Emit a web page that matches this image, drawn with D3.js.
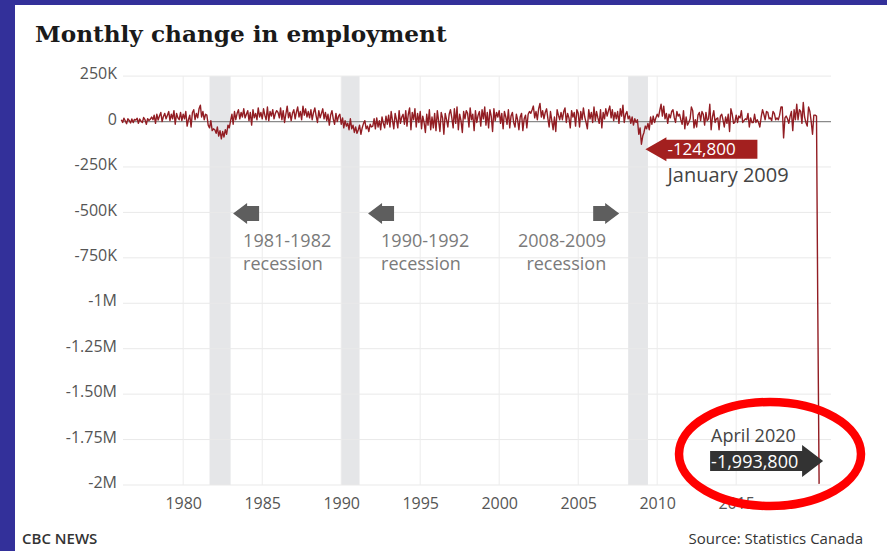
<!DOCTYPE html>
<html>
<head>
<meta charset="utf-8">
<script src="https://cdn.jsdelivr.net/npm/d3@7"></script>
<style>
  html, body { margin: 0; padding: 0; background: #fff; }
  svg { display: block; }
</style>
</head>
<body>
<svg id="chart" width="887" height="551"></svg>
<script>
// Monthly change in employment, thousands of persons, Feb 1976 – Apr 2020
const firstMonth = { year: 1976, month: 1 }; // 0-based month: February
const monthlyChange = [
  /*1976*/ 10, -5, 18, 4, -12, 15, 6, -8, 14, -6, 12,
  /*1977*/ 8, 18, -10, 14, 2, -5, 22, 10, -15, 16, 5, 12,
  /*1978*/ 25, 10, 35, -10, 40, 8, 30, 50, 0, 28, 45, 15,
  /*1979*/ 35, 55, 5, 40, 15, 60, -15, 45, 20, 10, 50, 5,
  /*1980*/ 40, 15, 55, -25, 10, 35, -30, 50, 65, 10, 45, 20,
  /*1981*/ 70, 90, 25, 55, 10, 40, 35, -20, -35, 5, -50, -40,
  /*1982*/ -45, -65, -30, -80, -50, -95, -55, -85, -45, -70, -20, -35,
  /*1983*/ 5, 40, -15, 55, 10, 45, 65, 15, 50, 25, 70, 20,
  /*1984*/ 40, 60, 5, 50, -20, 65, 20, 45, 10, 75, 25, 50,
  /*1985*/ 15, 70, 35, 10, 80, 5, 55, 30, 65, 15, 45, 60,
  /*1986*/ 50, 20, 75, 10, 60, -5, 40, 85, 20, 50, 5, 45,
  /*1987*/ 65, 15, 50, 80, 25, 55, 10, 85, 35, 70, 25, 55,
  /*1988*/ 20, 65, 10, 50, 75, 30, -5, 60, 20, 45, 70, 15,
  /*1989*/ 50, 5, 40, -20, 35, 60, 15, -15, 45, 0, 30, 40,
  /*1990*/ -15, 20, -35, 5, -25, -10, -45, 15, -40, -20, -60, -30,
  /*1991*/ -65, -45, -20, -70, -35, -10, 5, -40, -25, -55, -15, -30,
  /*1992*/ -25, 15, -40, 20, -30, 5, -45, 25, -10, -35, 30, -15,
  /*1993*/ 35, -30, 55, 5, -40, 45, 10, -35, 60, -10, 25, 40,
  /*1994*/ -15, 60, -25, 40, 75, -45, 50, 10, 70, -30, 45, -5,
  /*1995*/ 55, -40, 30, -5, -60, 40, -20, 65, -45, 25, -35, 45,
  /*1996*/ -50, 60, 5, -55, 50, 20, -70, 45, 10, -30, 40, 65,
  /*1997*/ 20, -35, 70, -10, 80, -45, 40, 5, -60, 55, 15, 60,
  /*1998*/ 45, -30, 75, 10, 40, -50, 60, -5, 35, 55, -25, 65,
  /*1999*/ 15, 80, -20, 50, -35, 65, 30, -55, 70, 5, 50, 25,
  /*2000*/ 60, -10, 45, -40, 55, 25, -15, 65, -35, 30, 50, -5,
  /*2001*/ -30, 40, 10, -45, 25, 45, -50, 15, 35, -35, 40, 55,
  /*2002*/ 45, 65, 85, 20, 55, 10, 70, 100, 25, 60, 15, 50,
  /*2003*/ 70, 15, -30, 55, 5, -45, 25, -55, 65, 35, 10, 50,
  /*2004*/ 10, 55, 75, -5, 45, 20, -35, 60, 25, 50, -25, 65,
  /*2005*/ 45, -30, 55, 10, 75, 25, -5, -40, 65, 15, 50, -5,
  /*2006*/ 80, 5, 55, 20, -10, 65, -35, 50, 15, 70, 30, 60,
  /*2007*/ 85, 20, 65, 5, 50, 15, 55, -10, 70, 30, 90, -5,
  /*2008*/ 40, 55, 15, 30, -10, 25, -20, 15, -5, 10, -70, -35,
  /*2009*/ -124.8, -80, -60, -25, -40, -10, -45, 25, -15, 30, -5, 20,
  /*2010*/ 40, 25, 60, 95, 30, 85, 15, 45, -10, 40, 20, 55,
  /*2011*/ 65, 20, -5, 55, 30, 40, 10, -15, 60, -40, 25, -20,
  /*2012*/ -5, 15, 80, 60, -35, 10, -30, 35, 50, 5, 55, 40,
  /*2013*/ -20, 50, 5, 15, 95, -45, 25, 60, -5, 15, 20, -45,
  /*2014*/ 30, 40, 10, -30, 25, -10, 40, -55, 70, 40, -10, -5,
  /*2015*/ 35, -5, 30, 20, 60, -5, 5, 15, 10, 45, -30, 20,
  /*2016*/ -5, -5, 40, -5, 10, -5, -30, 25, 65, 40, 10, 55,
  /*2017*/ 50, 15, 20, 5, 55, 45, 10, 20, 10, 35, 80, 80,
  /*2018*/ -90, 20, 30, 15, -10, 30, 55, -50, 65, 10, 95, 10,
  /*2019*/ 65, 55, -10, 105, 25, -5, -25, 80, 55, 0, -70, 35,
  /*2020*/ 35, 30, -1011.2, -1993.8
];

const yTicks = [250000, 0, -250000, -500000, -750000, -1000000, -1250000, -1500000, -1750000, -2000000];
const yTickLabels = ["250K", "0", "-250K", "-500K", "-750K", "-1M", "-1.25M", "-1.50M", "-1.75M", "-2M"];
const xTickYears = [1980, 1985, 1990, 1995, 2000, 2005, 2010, 2015];

const recessionStarts = ["1981-09", "1990-01", "2008-03"];
const recessionEnds   = ["1983-01", "1991-03", "2009-06"];
const recessionLabels = [["1981-1982", "recession"], ["1990-1992", "recession"], ["2008-2009", "recession"]];

const callouts = [
  { month: "2009-01", value: -124800,  label: "-124,800",   caption: "January 2009" },
  { month: "2020-04", value: -1993800, label: "-1,993,800", caption: "April 2020" }
];

const titleText = "Monthly change in employment";
const creditText = "CBC NEWS";
const sourceText = "Source: Statistics Canada";

// ---------------------------------------------------------------------------
const parseMonth = d3.utcParse("%Y-%m");
const series = monthlyChange.map((v, i) => ({
  date: new Date(Date.UTC(firstMonth.year, firstMonth.month + i, 1)),
  value: v * 1000
}));

const svg = d3.select("#chart");
const W = 887, H = 551;
const plot = { left: 120, right: 831, top: 76.1, bottom: 485 };

const x = d3.scaleUtc()
  .domain([new Date(Date.UTC(1976, 0, 1)), new Date(Date.UTC(2021, 0, 1))])
  .range([plot.left, plot.right]);
const y = d3.scaleLinear()
  .domain([-2000000, 250000])
  .range([plot.bottom, plot.top]);

const sans = "'Open Sans', 'Noto Sans', sans-serif";

// page frame
svg.append("rect").attr("width", W).attr("height", H).attr("fill", "#fff");
svg.append("rect").attr("x", 0).attr("y", 0).attr("width", 15).attr("height", H).attr("fill", "#33309a");
svg.append("rect").attr("x", 0).attr("y", 0).attr("width", W).attr("height", 5).attr("fill", "#33309a");

// title
svg.append("text")
  .attr("x", 35).attr("y", 42)
  .attr("font-family", "'DejaVu Serif', serif")
  .attr("font-weight", "bold")
  .attr("font-size", 23.2)
  .attr("fill", "#1a1a1a")
  .text(titleText);

// recession bands
const bands = svg.append("g");
recessionStarts.forEach((s, i) => {
  const x0 = x(parseMonth(s)), x1 = x(parseMonth(recessionEnds[i]));
  bands.append("rect")
    .attr("x", x0).attr("y", plot.top)
    .attr("width", x1 - x0).attr("height", plot.bottom - plot.top)
    .attr("fill", "#e5e6e8");
});

// grid
const grid = svg.append("g");
grid.selectAll("line.h")
  .data(yTicks.filter(v => v !== 0))
  .join("line")
  .attr("x1", 123).attr("x2", plot.right)
  .attr("y1", d => y(d)).attr("y2", d => y(d))
  .attr("stroke", "#e9e9e9").attr("stroke-width", 1);
grid.selectAll("line.v")
  .data(xTickYears)
  .join("line")
  .attr("x1", d => x(new Date(Date.UTC(d, 0, 1)))).attr("x2", d => x(new Date(Date.UTC(d, 0, 1))))
  .attr("y1", plot.top).attr("y2", plot.bottom)
  .attr("stroke", "#ececec").attr("stroke-width", 1);

// y axis (labels only)
const yAxis = d3.axisLeft(y)
  .tickValues(yTicks)
  .tickSize(0)
  .tickPadding(0)
  .tickFormat((d, i) => yTickLabels[i]);
const yG = svg.append("g").attr("transform", "translate(117,-2.5)").call(yAxis);
yG.select(".domain").remove();
yG.selectAll("text")
  .attr("font-family", sans).attr("font-size", 16).attr("fill", "#555");

// x axis (labels only)
const xAxis = d3.axisBottom(x)
  .tickValues(xTickYears.map(yr => new Date(Date.UTC(yr, 0, 1))))
  .tickSize(0)
  .tickPadding(0)
  .tickFormat(d3.utcFormat("%Y"));
const xG = svg.append("g").attr("transform", "translate(0,497.5)").call(xAxis);
xG.select(".domain").remove();
xG.selectAll("text")
  .attr("font-family", sans).attr("font-size", 16).attr("fill", "#555");

// zero line
svg.append("line")
  .attr("x1", 123).attr("x2", plot.right)
  .attr("y1", y(0)).attr("y2", y(0))
  .attr("stroke", "#8a8a8a").attr("stroke-width", 1.2);

// series
svg.append("path")
  .datum(series)
  .attr("d", d3.line().x(d => x(d.date)).y(d => y(d.value)))
  .attr("fill", "none")
  .attr("stroke", "#921d23")
  .attr("stroke-width", 1.4)
  .attr("stroke-linejoin", "round");

// arrow shape: tip at (tx, ty), pointing dir (-1 left, +1 right)
function arrowPath(tx, ty, dir, headLen, headHalf, bodyLen, bodyHalf) {
  const hb = tx - dir * headLen, be = hb - dir * bodyLen;
  return `M${tx},${ty} L${hb},${ty - headHalf} L${hb},${ty - bodyHalf} L${be},${ty - bodyHalf}` +
         ` L${be},${ty + bodyHalf} L${hb},${ty + bodyHalf} L${hb},${ty + headHalf} Z`;
}

// recession pointers and labels
const recG = svg.append("g");
const pointerSpec = [
  { edge: "end",   dx: 2.5, dir: -1, textDx: 10,  anchor: "start" },
  { edge: "end",   dx: 8.5, dir: -1, textDx: 13,  anchor: "start" },
  { edge: "start", dx: -9,  dir: 1,  textDx: -13, anchor: "end" }
];
recessionLabels.forEach((lines, i) => {
  const p = pointerSpec[i];
  const edgeX = x(parseMonth(p.edge === "end" ? recessionEnds[i] : recessionStarts[i]));
  const tip = edgeX + p.dx;
  recG.append("path")
    .attr("d", arrowPath(tip, 213.5, p.dir, 14, 10.5, 12, 7.5))
    .attr("fill", "#5e5e5e");
  const t = recG.append("text")
    .attr("font-family", sans).attr("font-size", 18).attr("fill", "#7a7a7a")
    .attr("text-anchor", p.anchor);
  lines.forEach((ln, k) => {
    t.append("tspan").attr("x", tip + p.textDx).attr("y", 246.5 + k * 23.5).text(ln);
  });
});

// January 2009 callout
{
  const c = callouts[0];
  const px = x(parseMonth(c.month)), py = y(c.value);
  const tipX = px + 4, tipY = py + 5;
  svg.append("path")
    .attr("d", arrowPath(tipX, tipY, -1, 21, 12, 91, 9.5))
    .attr("fill", "#a3201f");
  svg.append("text")
    .attr("x", tipX + 22).attr("y", tipY + 6)
    .attr("font-family", sans).attr("font-size", 17).attr("fill", "#fff")
    .text(c.label);
  svg.append("text")
    .attr("x", tipX + 22).attr("y", tipY + 32.5)
    .attr("font-family", sans).attr("font-size", 20).attr("fill", "#444")
    .text(c.caption);
}

// April 2020 callout
{
  const c = callouts[1];
  const px = x(parseMonth(c.month));
  const tipX = px + 4, tipY = 461;
  svg.append("path")
    .attr("d", arrowPath(tipX, tipY, 1, 21, 16, 92, 10))
    .attr("fill", "#333");
  svg.append("text")
    .attr("x", tipX - 112).attr("y", tipY + 6.5)
    .attr("font-family", sans).attr("font-size", 18).attr("fill", "#fff")
    .text(c.label);
  svg.append("text")
    .attr("x", tipX - 112).attr("y", tipY - 19)
    .attr("font-family", sans).attr("font-size", 18).attr("fill", "#444")
    .text(c.caption);

  // highlight ring
  svg.append("ellipse")
    .attr("cx", 770).attr("cy", 454)
    .attr("rx", 91).attr("ry", 52)
    .attr("fill", "none")
    .attr("stroke", "#ff0000")
    .attr("stroke-width", 8.5);
}

// footer
svg.append("text")
  .attr("x", 22).attr("y", 543.5)
  .attr("font-family", sans).attr("font-size", 15).attr("font-weight", 600).attr("fill", "#333")
  .text(creditText);
svg.append("text")
  .attr("x", 863).attr("y", 543.5)
  .attr("text-anchor", "end")
  .attr("font-family", sans).attr("font-size", 15).attr("fill", "#333")
  .text(sourceText);
</script>
</body>
</html>
